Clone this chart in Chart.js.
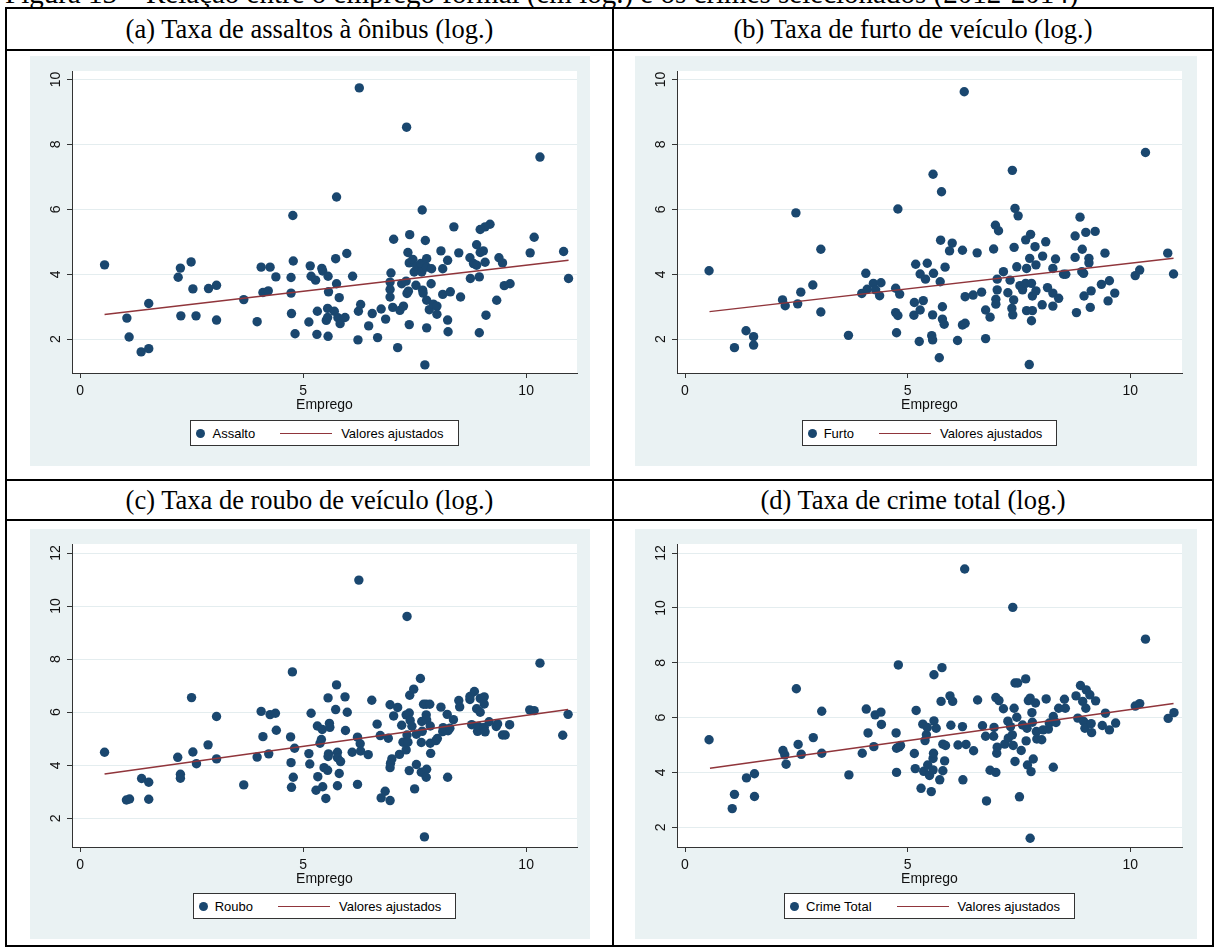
<!DOCTYPE html>
<html>
<head>
<meta charset="utf-8">
<script src="https://cdn.jsdelivr.net/npm/chart.js@4.4.1/dist/chart.umd.min.js"></script>
<style>
body{margin:0;background:#fff;width:1218px;height:951px;position:relative;overflow:hidden;font-family:"Liberation Serif","Times New Roman",serif;}
.hl{position:absolute;height:2px;background:#000;}
.vl{position:absolute;width:2px;background:#000;}
.top{position:absolute;left:5px;top:-21px;font-size:29px;line-height:29px;white-space:nowrap;}
.cap{position:absolute;display:flex;align-items:center;justify-content:center;font-size:26.5px;white-space:nowrap;}
.panel{position:absolute;background:#EAF2F3;height:410px;}
.panel canvas{position:absolute;left:0;top:0;}
.legend{position:absolute;top:364px;left:42px;width:505px;display:flex;justify-content:center;}
.lbox{display:flex;align-items:center;height:24px;border:1px solid #333;background:#fff;font-family:"Liberation Sans",Arial,sans-serif;font-size:13px;padding:0 14px 0 5px;}
.mk{width:9px;height:9px;border-radius:50%;background:#1A476F;margin-right:7px;}
.ln{width:52px;border-top:1.5px solid #90353B;margin:0 9px 0 25px;}
</style>
</head>
<body>
<div class="top">Figura 13 – Relação entre o emprego formal (em log.) e os crimes selecionados (2012-2014)</div>

<div class="hl" style="left:5px;top:7px;width:1209px"></div>
<div class="hl" style="left:5px;top:49px;width:1209px"></div>
<div class="hl" style="left:5px;top:479px;width:1209px"></div>
<div class="hl" style="left:5px;top:519px;width:1209px"></div>
<div class="hl" style="left:5px;top:945px;width:1209px"></div>
<div class="vl" style="left:5px;top:7px;height:940px"></div>
<div class="vl" style="left:612px;top:7px;height:940px"></div>
<div class="vl" style="left:1212px;top:7px;height:940px"></div>

<div class="cap" style="left:7px;top:9px;width:605px;height:40px">(a) Taxa de assaltos à ônibus (log.)</div>
<div class="cap" style="left:614px;top:9px;width:598px;height:40px">(b) Taxa de furto de veículo (log.)</div>
<div class="cap" style="left:7px;top:481px;width:605px;height:38px">(c) Taxa de roubo de veículo (log.)</div>
<div class="cap" style="left:614px;top:481px;width:598px;height:38px">(d) Taxa de crime total (log.)</div>

<div class="panel" style="left:30px;top:56px;width:560px">
  <canvas id="cA" width="560" height="410"></canvas>
  <div class="legend"><div class="lbox"><span class="mk"></span>Assalto<span class="ln"></span>Valores ajustados</div></div>
</div>
<div class="panel" style="left:635px;top:56px;width:562px">
  <canvas id="cB" width="562" height="410"></canvas>
  <div class="legend"><div class="lbox"><span class="mk"></span>Furto<span class="ln"></span>Valores ajustados</div></div>
</div>
<div class="panel" style="left:30px;top:529px;width:560px">
  <canvas id="cC" width="560" height="410"></canvas>
  <div class="legend"><div class="lbox"><span class="mk"></span>Roubo<span class="ln"></span>Valores ajustados</div></div>
</div>
<div class="panel" style="left:635px;top:529px;width:562px">
  <canvas id="cD" width="562" height="410"></canvas>
  <div class="legend"><div class="lbox"><span class="mk"></span>Crime Total<span class="ln"></span>Valores ajustados</div></div>
</div>

<script>
// ticks
const xTicks = [0, 5, 10];
const yTicksAB = [2, 4, 6, 8, 10];
const yTicksCD = [2, 4, 6, 8, 10, 12];

// (a) assaltos
const xAssalto = [0.55,1.05,1.10,1.37,1.54,1.54,2.20,2.25,2.26,2.49,2.53,2.60,2.88,3.06,3.06,3.67,3.97,4.06,4.10,4.22,4.26,4.39,4.73,4.73,4.74,4.78,4.82,5.13,5.16,5.18,5.28,5.31,5.32,
  5.42,5.44,5.56,5.73,5.98,5.75,5.57,5.81,5.55,5.56,5.52,5.55,5.70,5.78,5.83,5.94,6.11,6.23,6.24,6.29,6.47,6.55,6.67,6.75,6.85,6.97,6.95,6.95,6.95,7.01,7.12,7.17,7.25,7.21,7.31,7.33,7.36,7.38,
  7.35,7.38,7.46,7.49,7.55,7.53,7.64,7.66,7.68,7.69,7.77,7.77,7.77,7.73,7.77,7.83,7.87,7.88,7.92,8.00,8.00,8.09,8.13,8.13,8.24,8.24,8.25,8.30,8.49,8.53,8.74,8.75,8.82,8.89,8.95,8.95,8.97,
  9.08,9.10,9.34,9.39,9.47,9.51,9.64,10.09,10.84,10.95,6.26,7.32,10.31,5.75,7.67,8.38,9.19,9.08,8.97,7.03,7.39,7.74,10.18,8.89,9.04,4.77];
const yAssalto = [4.29,2.65,2.07,1.61,1.71,3.10,3.91,4.19,2.72,4.38,3.55,2.72,3.56,3.66,2.59,3.22,2.54,4.22,3.44,3.49,4.22,3.92,3.90,3.42,2.79,4.41,2.17,2.53,4.26,3.94,3.82,2.15,2.86,
  4.18,4.10,3.94,4.48,4.64,3.71,3.46,3.28,2.95,2.09,2.58,2.67,2.86,2.66,2.48,2.67,3.94,1.98,2.86,3.07,2.41,2.79,2.05,2.93,2.62,4.04,3.76,3.53,3.30,2.98,1.74,2.89,3.02,3.71,3.79,3.41,3.48,2.45,
  4.67,4.35,4.46,4.07,4.25,3.66,4.33,4.07,3.51,3.42,4.48,4.22,2.35,1.21,3.20,2.91,3.71,4.17,3.08,3.02,2.77,4.72,4.17,3.38,4.43,2.59,2.23,3.46,4.66,3.30,4.51,3.87,4.33,4.28,3.92,2.20,4.67,
  4.37,2.74,3.20,4.51,4.35,3.65,3.71,4.66,4.70,3.87,9.74,8.53,7.61,6.38,5.98,5.46,5.54,5.46,5.38,5.08,5.22,5.04,5.14,4.91,4.72,5.81];
const fitXA = [0.55, 10.95];
const fitYA = [2.76, 4.43];

// (b) furto
const xFurto = [0.54,1.11,1.37,1.54,1.54,2.19,2.25,2.53,2.60,2.87,3.05,3.05,3.67,3.97,4.06,4.09,4.23,4.28,4.40,4.37,4.73,4.73,4.75,4.78,4.82,5.14,5.15,5.18,5.28,5.26,5.28,5.44,5.40,5.58,5.73,5.84,
  5.35,5.56,5.54,5.56,5.71,5.78,5.78,5.82,6.12,6.23,6.29,6.29,6.47,6.66,6.75,6.75,6.85,6.98,6.98,7.01,7.01,7.15,7.25,7.30,7.34,7.36,7.38,7.45,7.52,7.58,7.67,7.65,7.67,7.78,7.80,7.73,7.74,7.78,
  7.80,7.86,7.88,7.88,8.02,8.03,8.10,8.14,8.26,8.26,8.26,8.32,8.39,8.50,8.55,8.76,8.79,8.92,8.91,8.95,8.96,9.07,9.07,9.10,9.12,9.35,9.43,9.50,9.53,9.65,10.11,10.21,10.84,10.97,
  6.27,10.34,7.35,5.57,5.76,7.41,7.48,8.87,6.97,7.04,7.76,7.65,8.76,9.00,9.21,5.74,6.00,5.94,6.23,6.56,6.93,7.39,2.49,4.78];
const yFurto = [4.11,1.74,2.26,2.08,1.82,3.21,3.03,3.09,3.45,3.67,4.77,2.84,2.12,3.41,4.03,3.54,3.72,3.52,3.74,3.34,3.57,2.82,2.20,2.73,3.39,2.74,3.13,4.31,4.01,1.93,2.90,4.34,3.85,4.03,3.77,4.22,
  3.19,2.75,2.11,1.98,1.43,3.00,2.62,2.46,1.96,2.44,2.49,3.31,3.36,3.45,2.02,2.90,2.68,3.23,3.08,3.52,3.85,4.08,3.43,3.82,2.95,2.75,3.21,4.23,3.65,3.52,4.18,3.72,2.88,2.57,2.88,1.22,4.49,3.72,
  3.33,4.85,4.29,3.49,3.06,4.56,5.00,3.59,4.18,3.42,3.02,4.47,3.26,4.00,4.00,4.52,2.82,4.77,4.08,4.03,3.33,4.49,4.35,2.98,3.49,3.69,4.65,3.18,3.80,3.42,3.96,4.13,4.65,4.01,
  9.62,7.75,7.20,7.08,6.54,6.03,5.80,5.76,5.51,5.34,5.23,5.06,5.18,5.29,5.32,5.05,4.96,4.72,4.74,4.66,4.78,4.83,5.89,6.01];
const fitXB = [0.55, 10.97];
const fitYB = [2.85, 4.49];

// (c) roubo
const xRoubo = [0.55,1.04,1.11,1.38,1.54,1.54,2.19,2.25,2.25,2.50,2.53,2.61,2.87,3.06,3.06,3.67,3.97,4.06,4.10,4.23,4.26,4.38,4.40,4.72,4.73,4.74,4.76,4.78,4.81,5.13,5.15,5.18,5.29,5.32,5.33,5.38,5.41,5.43,
  5.44,5.47,5.51,5.55,5.56,5.56,5.57,5.59,5.60,5.73,5.75,5.77,5.77,5.77,5.81,5.84,5.94,5.95,5.99,6.10,6.22,6.22,6.25,6.28,6.29,6.46,6.54,6.66,6.73,6.75,6.84,6.91,6.95,6.95,6.96,6.99,6.95,7.03,
  7.12,7.16,7.21,7.24,7.31,7.31,7.33,7.33,7.35,7.38,7.38,7.39,7.40,7.44,7.48,7.50,7.54,7.54,7.63,7.65,7.65,7.66,7.67,7.70,7.76,7.76,7.77,7.77,7.76,7.84,7.85,7.85,7.86,7.98,8.01,8.09,8.13,8.14,
  8.23,8.24,8.25,8.29,8.37,8.49,8.51,8.74,8.74,8.78,8.84,8.89,8.91,8.93,8.97,8.97,9.06,9.06,9.06,9.08,9.17,9.33,9.36,9.47,9.53,9.63,10.08,10.18,10.31,10.82,10.94,7.72];
const yRoubo = [4.49,2.69,2.73,3.50,3.36,2.72,4.30,3.66,3.51,6.55,4.50,4.06,4.77,5.84,4.24,3.26,4.31,6.03,5.08,4.43,5.91,5.96,5.32,5.07,4.10,3.17,7.52,3.55,4.64,4.44,4.05,5.96,3.06,5.48,3.57,4.83,4.97,5.35,
  3.19,3.91,2.75,3.81,6.54,4.33,4.43,5.58,5.43,6.10,7.03,4.49,3.23,4.29,3.69,4.14,6.58,5.31,6.00,4.49,5.06,3.28,10.98,4.81,4.54,4.40,6.45,5.55,5.12,2.77,3.02,5.02,6.28,3.91,4.08,4.24,2.67,5.86,
  6.18,4.41,5.51,4.87,4.58,5.90,9.61,5.14,4.87,5.97,3.80,6.64,5.69,5.47,6.87,3.11,5.17,4.03,7.27,4.86,3.74,5.65,5.28,6.30,6.30,5.90,5.71,3.85,3.55,6.30,5.48,4.83,4.45,4.93,5.01,6.19,5.27,5.42,
  5.92,3.55,5.30,5.40,5.72,6.44,6.20,6.48,6.59,5.53,6.78,6.13,5.28,5.46,6.00,6.52,6.58,6.31,5.43,5.26,5.64,5.46,5.56,5.14,5.14,5.53,6.09,6.06,7.85,5.13,5.92,1.30];
const fitXC = [0.55, 10.94];
const fitYC = [3.67, 6.10];

// (d) crime total
const xTotal = [0.54,1.06,1.11,1.38,1.56,1.56,2.20,2.24,2.27,2.50,2.54,2.61,2.88,3.07,3.07,3.68,3.98,4.07,4.11,4.24,4.27,4.40,4.41,4.74,4.75,4.75,4.79,4.81,4.84,5.15,5.17,5.19,5.30,5.34,5.36,5.39,5.42,5.44,
  5.45,5.49,5.53,5.57,5.59,5.57,5.58,5.59,5.64,5.75,5.77,5.79,5.79,5.72,5.83,5.85,5.97,5.95,6.01,6.13,6.23,6.24,6.28,6.31,6.48,6.57,6.68,6.75,6.77,6.85,6.93,6.94,6.98,6.98,7.00,7.01,7.05,7.15,
  7.18,7.25,7.26,7.31,7.36,7.37,7.35,7.39,7.41,7.41,7.45,7.47,7.51,7.55,7.58,7.65,7.66,7.68,7.69,7.71,7.75,7.77,7.79,7.80,7.82,7.87,7.89,7.90,8.01,8.04,8.11,8.16,8.18,8.27,8.27,8.33,8.39,8.52,
  8.54,8.78,8.82,8.88,8.93,8.95,8.98,9.01,9.00,9.09,9.12,9.13,9.22,9.37,9.44,9.53,9.67,10.11,10.21,10.34,10.85,10.98,7.75];
const yTotal = [5.19,2.68,3.20,3.80,3.95,3.12,4.80,4.64,4.30,7.05,5.02,4.66,5.27,6.23,4.70,3.91,4.70,6.31,5.44,4.94,6.10,6.20,5.75,5.44,4.88,4.00,7.92,4.93,4.98,4.69,4.14,6.26,3.42,5.76,4.04,5.16,5.37,5.64,
  4.27,3.89,3.30,4.09,7.56,4.51,4.70,5.88,5.61,6.59,7.82,5.03,4.06,3.73,4.42,4.98,5.72,6.79,6.59,5.00,5.67,3.73,11.42,5.02,4.79,6.64,5.70,5.32,2.96,4.08,5.32,5.64,4.00,6.73,4.70,4.92,6.62,6.32,
  5.03,5.87,5.25,5.67,10.02,4.98,5.37,6.34,4.40,7.26,6.01,7.26,3.11,4.80,5.73,7.41,5.15,5.61,4.27,6.62,6.71,4.03,6.18,5.83,4.49,6.53,5.49,5.22,5.19,5.55,6.68,5.58,5.80,6.04,4.19,5.82,6.34,6.67,
  6.34,6.79,5.98,7.17,6.59,5.86,5.61,7.01,6.34,6.83,5.78,5.45,6.61,5.71,6.16,5.55,5.80,6.42,6.51,8.86,5.97,6.18,1.60];
const fitXD = [0.56, 10.97];
const fitYD = [4.15, 6.51];

const AXIS = '#333333';
const BG = '#EAF2F3';

const stataLabels = {
  id: 'stataLabels',
  beforeDraw(chart) {
    const { ctx, chartArea: a, width, height } = chart;
    ctx.save();
    ctx.fillStyle = BG;
    ctx.fillRect(0, 0, width, height);
    ctx.fillStyle = '#fff';
    ctx.fillRect(a.left, a.top, a.right - a.left, a.bottom - a.top);
    ctx.restore();
  },
  afterDraw(chart) {
    const { ctx, chartArea: a, scales: { x, y } } = chart;
    ctx.save();
    ctx.fillStyle = '#111';
    ctx.font = '14px "Liberation Sans", Arial, sans-serif';
    ctx.textAlign = 'center';
    ctx.textBaseline = 'middle';
    x.ticks.forEach(t => ctx.fillText(String(t.value), x.getPixelForValue(t.value), a.bottom + 18));
    ctx.fillText('Emprego', (a.left + a.right) / 2, a.bottom + 32);
    y.ticks.forEach(t => {
      ctx.save();
      ctx.translate(a.left - 16, y.getPixelForValue(t.value));
      ctx.rotate(-Math.PI / 2);
      ctx.fillText(String(t.value), 0, 0);
      ctx.restore();
    });
    ctx.restore();
  }
};

function pts(xs, ys) {
  return xs.map((v, i) => ({ x: v, y: ys[i] }));
}

function makeChart(id, xs, ys, fx, fy, yTicks, p) {
  new Chart(document.getElementById(id), {
    type: 'scatter',
    data: {
      datasets: [
        { type: 'line', data: pts(fx, fy), borderColor: '#90353B', borderWidth: 1.5, pointRadius: 0, fill: false, order: 0 },
        { data: pts(xs, ys), backgroundColor: '#1A476F', borderColor: '#1A476F', borderWidth: 0, pointRadius: 4.7, order: 1 }
      ]
    },
    options: {
      responsive: false,
      animation: false,
      devicePixelRatio: 1,
      layout: { padding: { left: 42, top: 15, right: p.right, bottom: p.bottom } },
      plugins: { legend: { display: false }, tooltip: { enabled: false } },
      scales: {
        x: {
          type: 'linear', min: p.xMin, max: p.xMax,
          afterFit: s => { s.height = 0; },
          afterBuildTicks: s => { s.ticks = xTicks.map(v => ({ value: v })); },
          ticks: { display: false },
          grid: { drawOnChartArea: false, drawTicks: true, tickLength: 5, color: AXIS, tickColor: AXIS },
          border: { display: true, color: AXIS, width: 1 }
        },
        y: {
          type: 'linear', min: p.yMin, max: p.yMax,
          afterFit: s => { s.width = 0; },
          afterBuildTicks: s => { s.ticks = yTicks.map(v => ({ value: v })); },
          ticks: { display: false },
          grid: { drawOnChartArea: true, drawTicks: true, tickLength: 5, color: '#E4EDEF', tickColor: AXIS, lineWidth: 1 },
          border: { display: true, color: AXIS, width: 1 }
        }
      }
    },
    plugins: [stataLabels]
  });
}

makeChart('cA', xAssalto, yAssalto, fitXA, fitYA, yTicksAB, { right: 13, bottom: 93, xMin: -0.18, xMax: 11.14, yMin: 0.96, yMax: 10.26 });
makeChart('cB', xFurto, yFurto, fitXB, fitYB, yTicksAB, { right: 15, bottom: 93, xMin: -0.18, xMax: 11.16, yMin: 0.96, yMax: 10.26 });
makeChart('cC', xRoubo, yRoubo, fitXC, fitYC, yTicksCD, { right: 13, bottom: 92, xMin: -0.18, xMax: 11.14, yMin: 0.92, yMax: 12.34 });
makeChart('cD', xTotal, yTotal, fitXD, fitYD, yTicksCD, { right: 15, bottom: 92, xMin: -0.18, xMax: 11.16, yMin: 1.28, yMax: 12.33 });
</script>
</body>
</html>
